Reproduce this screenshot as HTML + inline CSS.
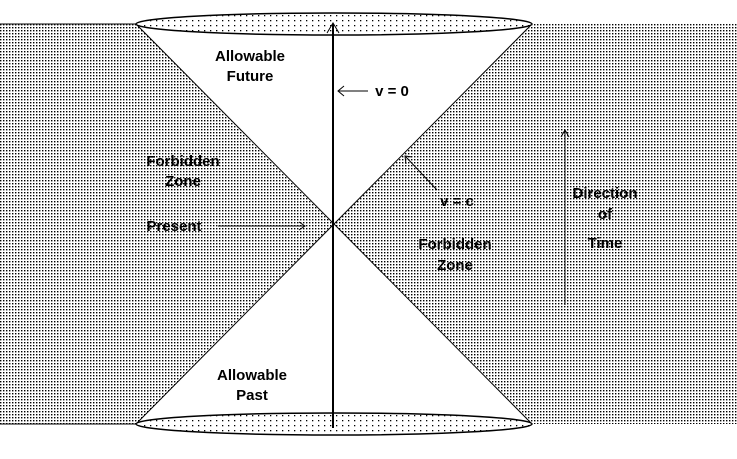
<!DOCTYPE html>
<html><head><style>body{margin:0;background:#fff}svg{display:block}</style></head><body>
<svg width="737" height="459" viewBox="0 0 737 459" xmlns="http://www.w3.org/2000/svg" font-family="Liberation Sans, sans-serif" font-weight="bold" font-size="15">
<defs>
<pattern id="d" width="3" height="3" patternUnits="userSpaceOnUse"><rect width="1.4" height="1.4" fill="#000"/></pattern>
<pattern id="e" width="6" height="5" patternUnits="userSpaceOnUse"><rect width="1.3" height="1.3" fill="#000"/></pattern>
</defs>
<polygon points="0,24 136,24 334,224 136,424 0,424" fill="url(#d)"/>
<polygon points="737,24 532,24 334,224 532,424 737,424" fill="url(#d)"/>
<line x1="0" y1="24" x2="136" y2="24" stroke="#000"/>
<line x1="0" y1="424" x2="136" y2="424" stroke="#000"/>
<line x1="136" y1="24" x2="532" y2="424" stroke="#000"/>
<line x1="532" y1="24" x2="136" y2="424" stroke="#000"/>
<ellipse cx="334" cy="24" rx="198" ry="11" fill="#fff" stroke="#000" stroke-width="1.5"/>
<ellipse cx="334" cy="24" rx="198" ry="11" fill="url(#e)"/>
<ellipse cx="334" cy="424" rx="198" ry="11" fill="#fff" stroke="#000" stroke-width="1.5"/>
<ellipse cx="334" cy="424" rx="198" ry="11" fill="url(#e)"/>
<line x1="333" y1="428" x2="333" y2="24" stroke="#000" stroke-width="2"/>
<path d="M327,33 L333,23 L339,33" fill="none" stroke="#000"/>
<line x1="338" y1="91" x2="368" y2="91" stroke="#000"/>
<path d="M344,86 L338,91 L344,96" fill="none" stroke="#000"/>
<line x1="218" y1="226" x2="305" y2="226" stroke="#000"/>
<path d="M299,222 L305,226 L299,230" fill="none" stroke="#000"/>
<line x1="406" y1="157" x2="437" y2="190" stroke="#000"/>
<path d="M406,164 L405,156 L412,157" fill="none" stroke="#000"/>
<line x1="565" y1="305" x2="565" y2="131" stroke="#000"/>
<path d="M561,137 L565,130 L569,137" fill="none" stroke="#000"/>
<g text-anchor="middle">
<text x="250" y="61">Allowable</text><text x="250" y="81">Future</text>
<text x="392" y="96">v = 0</text>
<text x="183" y="166">Forbidden</text><text x="183" y="186">Zone</text>
<text x="174" y="231">Present</text>
<text x="457" y="206">v = c</text>
<text x="455" y="249">Forbidden</text><text x="455" y="270">Zone</text>
<text x="605" y="198">Direction</text><text x="605" y="219">of</text><text x="605" y="248">Time</text>
<text x="252" y="380">Allowable</text><text x="252" y="400">Past</text>
</g>
</svg>
</body></html>
